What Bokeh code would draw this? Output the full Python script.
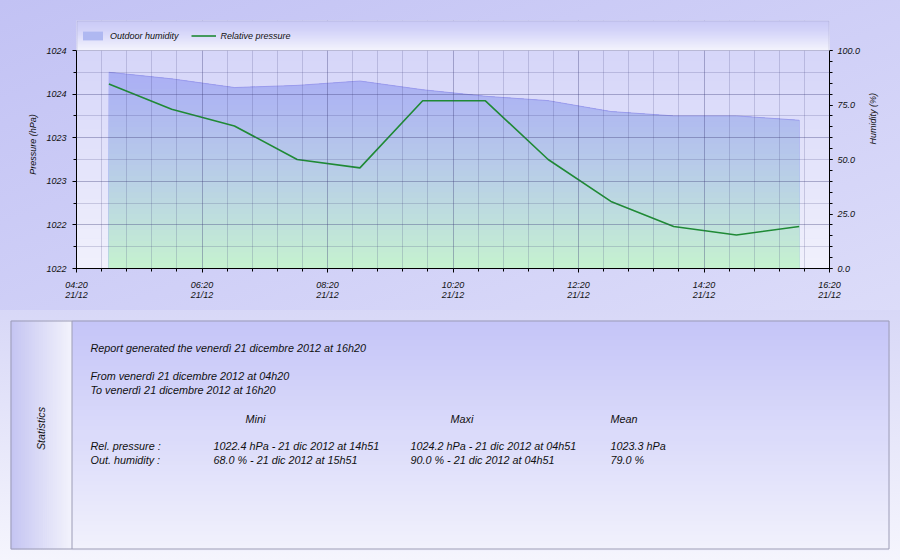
import math
import numpy as np
import pandas as pd
from bokeh.plotting import figure
from bokeh.models import (Range1d, LinearAxis, FixedTicker, NumeralTickFormatter,
                          DatetimeTickFormatter, BoxAnnotation, Legend, LegendItem)
from bokeh.core.properties import value
from bokeh.embed import file_html
from bokeh.resources import INLINE

# ---------------- data ----------------
TIMES = ["2012-12-21 04:51", "2012-12-21 05:51", "2012-12-21 06:51", "2012-12-21 07:51",
         "2012-12-21 08:51", "2012-12-21 09:51", "2012-12-21 10:51", "2012-12-21 11:51",
         "2012-12-21 12:51", "2012-12-21 13:51", "2012-12-21 14:51", "2012-12-21 15:51"]
PRESSURE = [1024.2, 1023.9, 1023.7, 1023.3, 1023.2, 1024.0, 1024.0, 1023.3, 1022.8, 1022.5, 1022.4, 1022.5]
HUMIDITY = [90.0, 87.0, 83.0, 84.0, 86.0, 82.0, 79.0, 77.0, 72.0, 70.0, 70.0, 68.0]
X_TICKS = ["2012-12-21 04:20", "2012-12-21 06:20", "2012-12-21 08:20", "2012-12-21 10:20",
           "2012-12-21 12:20", "2012-12-21 14:20", "2012-12-21 16:20"]
PRESSURE_AXIS = [1022.0, 1024.6]
HUMIDITY_AXIS = [0.0, 100.0]
HUMIDITY_TICKS = [0, 25, 50, 75, 100]
SERIES_NAMES = ["Outdoor humidity", "Relative pressure"]
AXIS_TITLES = ["Pressure (hPa)", "Humidity (%)"]
REPORT_LINES = ["Report generated the venerdì 21 dicembre 2012 at 16h20",
                "From venerdì 21 dicembre 2012 at 04h20",
                "To venerdì 21 dicembre 2012 at 16h20"]
STAT_TITLE = "Statistics"
STAT_HEADERS = ["Mini", "Maxi", "Mean"]
STAT_ROW_LABELS = ["Rel. pressure :", "Out. humidity :"]
STAT_UNITS = ["hPa", "%"]
MONTH_ABBR = "dic"

FONT = "Liberation Sans"
FS = "9px"
FS_STATS = "10.8px"

t = pd.to_datetime(TIMES)
EPOCH = pd.Timestamp("1970-01-01")
tick_ms = [float((pd.Timestamp(s) - EPOCH) / pd.Timedelta(milliseconds=1)) for s in X_TICKS]
minor_ms = list(np.arange(tick_ms[0], tick_ms[-1] + 1, 24 * 60 * 1000.0))
pres = np.array(PRESSURE)
hum = np.array(HUMIDITY)


def mix(stops, f):
    f = min(max(f, 0.0), 1.0)
    for (p0, c0), (p1, c1) in zip(stops, stops[1:]):
        if p0 <= f <= p1:
            u = (f - p0) / (p1 - p0) if p1 > p0 else 0.0
            return "#%02x%02x%02x" % tuple(int(round(a + (b - a) * u)) for a, b in zip(c0, c1))
    return "#%02x%02x%02x" % stops[-1][1]


AREA_STOPS = [(0.0, (198, 243, 206)), (0.25, (190, 222, 222)), (0.5, (183, 202, 233)),
              (0.75, (175, 184, 241)), (1.0, (168, 170, 246))]
BG_STOPS = [(0.0, (241, 241, 252)), (1.0, (213, 213, 249))]
LEG_STOPS = [(0.0, (244, 244, 253)), (0.6, (214, 214, 249)), (1.0, (200, 200, 246))]

# ---------------- chart ----------------
W = 900
PLOT_H = 218.0      # height of the data area in px
LEG_H = 30.0        # legend strip above it (inside the frame)
ext = (PLOT_H + LEG_H) / PLOT_H
p_rng = (PRESSURE_AXIS[0], PRESSURE_AXIS[0] + (PRESSURE_AXIS[1] - PRESSURE_AXIS[0]) * ext)
h_rng = (HUMIDITY_AXIS[0], HUMIDITY_AXIS[0] + (HUMIDITY_AXIS[1] - HUMIDITY_AXIS[0]) * ext)

pA = figure(width=W, height=310, x_axis_type="datetime",
            x_range=Range1d(tick_ms[0], tick_ms[-1]), y_range=Range1d(*p_rng),
            output_backend="svg", toolbar_location=None, tools="",
            min_border_left=76, min_border_right=71, min_border_top=20, min_border_bottom=42,
            border_fill_alpha=0.0, background_fill_color="#e4e4fa", outline_line_color=None,
            styles={"background": "linear-gradient(160deg, #c2c2f4 0%, #d0d0f7 55%, #dcdcf9 100%)"})
pA.extra_y_ranges = {"hum": Range1d(*h_rng)}

# plot-area background gradient
NB = 22
for i in range(NB):
    pA.add_layout(BoxAnnotation(bottom=i * PLOT_H / NB, top=(i + 1) * PLOT_H / NB + 0.6,
                                bottom_units="screen", top_units="screen",
                                fill_color=mix(BG_STOPS, (i + 0.5) / NB), fill_alpha=1.0,
                                line_color=None, level="underlay"))

# humidity area with vertical gradient (layers clipped at decreasing levels)
levels = np.arange(100.0, -0.01, -2.5)
layers = []
for L in levels:
    r = pA.varea(x=t, y1=0, y2=np.minimum(hum, L), fill_color=mix(AREA_STOPS, L / 100.0),
                 fill_alpha=1.0, y_range_name="hum")
    layers.append(r)
pA.line(x=t, y=hum, line_color="#9696ea", line_width=1, line_alpha=0.8, y_range_name="hum")

pline = pA.line(x=t, y=pres, line_color="#1f8a35", line_width=1.6)

# legend box (top strip of the frame, drawn over the grid)
NL = 15
for i in range(NL):
    pA.add_layout(BoxAnnotation(left=0, right=760, bottom=PLOT_H + i * 2, top=PLOT_H + (i + 1) * 2 + 0.6,
                                left_units="screen", right_units="screen",
                                bottom_units="screen", top_units="screen",
                                fill_color=mix(LEG_STOPS, (i + 0.5) / NL), fill_alpha=1.0,
                                line_color=None, level="annotation"))
pA.add_layout(BoxAnnotation(left=0.5, right=752.5, bottom=PLOT_H, top=PLOT_H + LEG_H - 0.5,
                            left_units="screen", right_units="screen",
                            bottom_units="screen", top_units="screen",
                            fill_alpha=0.0, line_color="#9494b4", line_width=1, level="annotation"))

# axes
xt = FixedTicker(ticks=tick_ms, minor_ticks=minor_ms)
xa = pA.xaxis[0]
xa.ticker = xt
pA.xgrid.ticker = xt
xa.formatter = DatetimeTickFormatter(minutes="%H:%M\n%d/%m", hourmin="%H:%M\n%d/%m",
                                     hours="%H:%M\n%d/%m", days="%H:%M\n%d/%m",
                                     strip_leading_zeros=False)

yt = FixedTicker(ticks=list(np.linspace(PRESSURE_AXIS[0], PRESSURE_AXIS[1], 6)),
                 minor_ticks=list(np.linspace(PRESSURE_AXIS[0], PRESSURE_AXIS[1], 11)))
ya = pA.yaxis[0]
ya.ticker = yt
pA.ygrid.ticker = yt
ya.bounds = tuple(PRESSURE_AXIS)
ya.formatter = NumeralTickFormatter(format="0", rounding="floor")
ya.axis_label = AXIS_TITLES[0]

ra = LinearAxis(y_range_name="hum", bounds=tuple(HUMIDITY_AXIS),
                ticker=FixedTicker(ticks=HUMIDITY_TICKS, minor_ticks=list(range(0, 101, 5))),
                formatter=NumeralTickFormatter(format="0.0"), axis_label=AXIS_TITLES[1])
pA.add_layout(ra, "right")
ra.axis_label_orientation = math.pi / 2

for ax in (xa, ya, ra):
    ax.axis_line_color = "black"
    ax.axis_line_width = 1
    ax.major_tick_line_color = "black"
    ax.minor_tick_line_color = "black"
    ax.major_tick_in = 0
    ax.minor_tick_in = 0
    ax.major_label_text_font = FONT
    ax.major_label_text_font_size = FS
    ax.major_label_text_font_style = "italic"
    ax.major_label_text_color = "#111111"
    ax.axis_label_text_font = FONT
    ax.axis_label_text_font_size = FS
    ax.axis_label_text_font_style = "italic"
    ax.axis_label_text_color = "#111111"
xa.major_tick_out = 4
xa.minor_tick_out = 3
xa.major_label_standoff = 7
xa.major_label_text_line_height = 1.0
ya.major_tick_out = 4
ya.minor_tick_out = 3
ya.major_label_standoff = 6
ya.axis_label_standoff = 5
ra.major_tick_out = 3
ra.minor_tick_out = 3
ra.major_label_standoff = 5
ra.axis_label_standoff = 10

for g in (pA.xgrid, pA.ygrid):
    g.grid_line_color = "#3a3a78"
    g.grid_line_alpha = 0.2
    g.minor_grid_line_color = "#3a3a78"
    g.minor_grid_line_alpha = 0.2
    g.level = "guide"

legend = Legend(items=[LegendItem(label=value(SERIES_NAMES[0]), renderers=[layers[len(layers) // 4]]),
                       LegendItem(label=value(SERIES_NAMES[1]), renderers=[pline])],
                location=(4, 227), orientation="horizontal", padding=0, margin=0, spacing=12,
                glyph_width=25, glyph_height=11, label_height=11, label_standoff=5,
                label_text_font=FONT, label_text_font_size=FS, label_text_font_style="italic",
                label_text_color="#111111", background_fill_alpha=0.0, border_line_color=None)
pA.add_layout(legend, "center")

# ---------------- statistics panel ----------------
HB = 250
pB = figure(width=W, height=HB, x_range=Range1d(0, W), y_range=Range1d(0, HB),
            output_backend="svg", toolbar_location=None, tools="",
            x_axis_location=None, y_axis_location=None, min_border=0,
            outline_line_color=None, background_fill_alpha=0.0, border_fill_alpha=0.0,
            styles={"background": "linear-gradient(180deg, #d8d8f7 0%, #e8e8fa 55%, #f5f5fd 100%)"})
pB.grid.visible = False


def Y(v):
    return HB - v


PANEL_STOPS = [(0.0, (197, 197, 248)), (1.0, (241, 241, 252))]
SIDE_STOPS = [(0.0, (196, 196, 242)), (1.0, (243, 243, 252))]
n = 46
pB.quad(left=[71] * n, right=[889] * n,
        top=[Y(10 + i * 5) for i in range(n)], bottom=[Y(10 + (i + 1) * 5) - 0.6 for i in range(n)],
        fill_color=[mix(PANEL_STOPS, (i + 0.5) / n) for i in range(n)], line_color=None)
m = 30
pB.quad(left=[10 + j * 61 / m for j in range(m)], right=[10 + (j + 1) * 61 / m + 0.6 for j in range(m)],
        top=[Y(10)] * m, bottom=[Y(239)] * m,
        fill_color=[mix(SIDE_STOPS, (j + 0.5) / m) for j in range(m)], line_color=None)
pB.quad(left=10.5, right=888.5, top=Y(10.5), bottom=Y(238.5), fill_alpha=0.0,
        line_color="#9c9cb6", line_width=1)
pB.segment(x0=[71.5], y0=[Y(10.5)], x1=[71.5], y1=[Y(238.5)], line_color="#9c9cb6", line_width=1)

pB.text(x=[40], y=[Y(118)], text=[STAT_TITLE], angle=math.pi / 2,
        text_font=value(FONT), text_font_size=FS_STATS, text_font_style="italic",
        text_align="center", text_baseline="middle", text_color="#111111")


def stamp(ts):
    return f"{ts.day} {MONTH_ABBR} {ts.year} at {ts:%H}h{ts:%M}"


rows = []
for label, arr, unit in zip(STAT_ROW_LABELS, (pres, hum), STAT_UNITS):
    imin, imax = int(np.argmin(arr)), int(np.argmax(arr))
    rows.append([label,
                 f"{arr[imin]:.1f} {unit} - {stamp(t[imin])}",
                 f"{arr[imax]:.1f} {unit} - {stamp(t[imax])}",
                 f"{arr.mean():.1f} {unit}"])

tx, ty, tt = [], [], []
for s, yy in zip(REPORT_LINES, (37, 65, 79)):
    tx.append(90); ty.append(Y(yy)); tt.append(s)
for s, xx in zip(STAT_HEADERS, (245, 450, 610)):
    tx.append(xx); ty.append(Y(108)); tt.append(s)
for row, yy in zip(rows, (135, 149)):
    for s, xx in zip(row, (90, 213, 410, 610)):
        tx.append(xx); ty.append(Y(yy)); tt.append(s)
pB.text(x=tx, y=ty, text=tt, text_font=value(FONT), text_font_size=FS_STATS, text_font_style="italic",
        text_align="left", text_baseline="middle", text_color="#111111")

with open("out.html", "w") as f:
    f.write(file_html([pA, pB], INLINE))
